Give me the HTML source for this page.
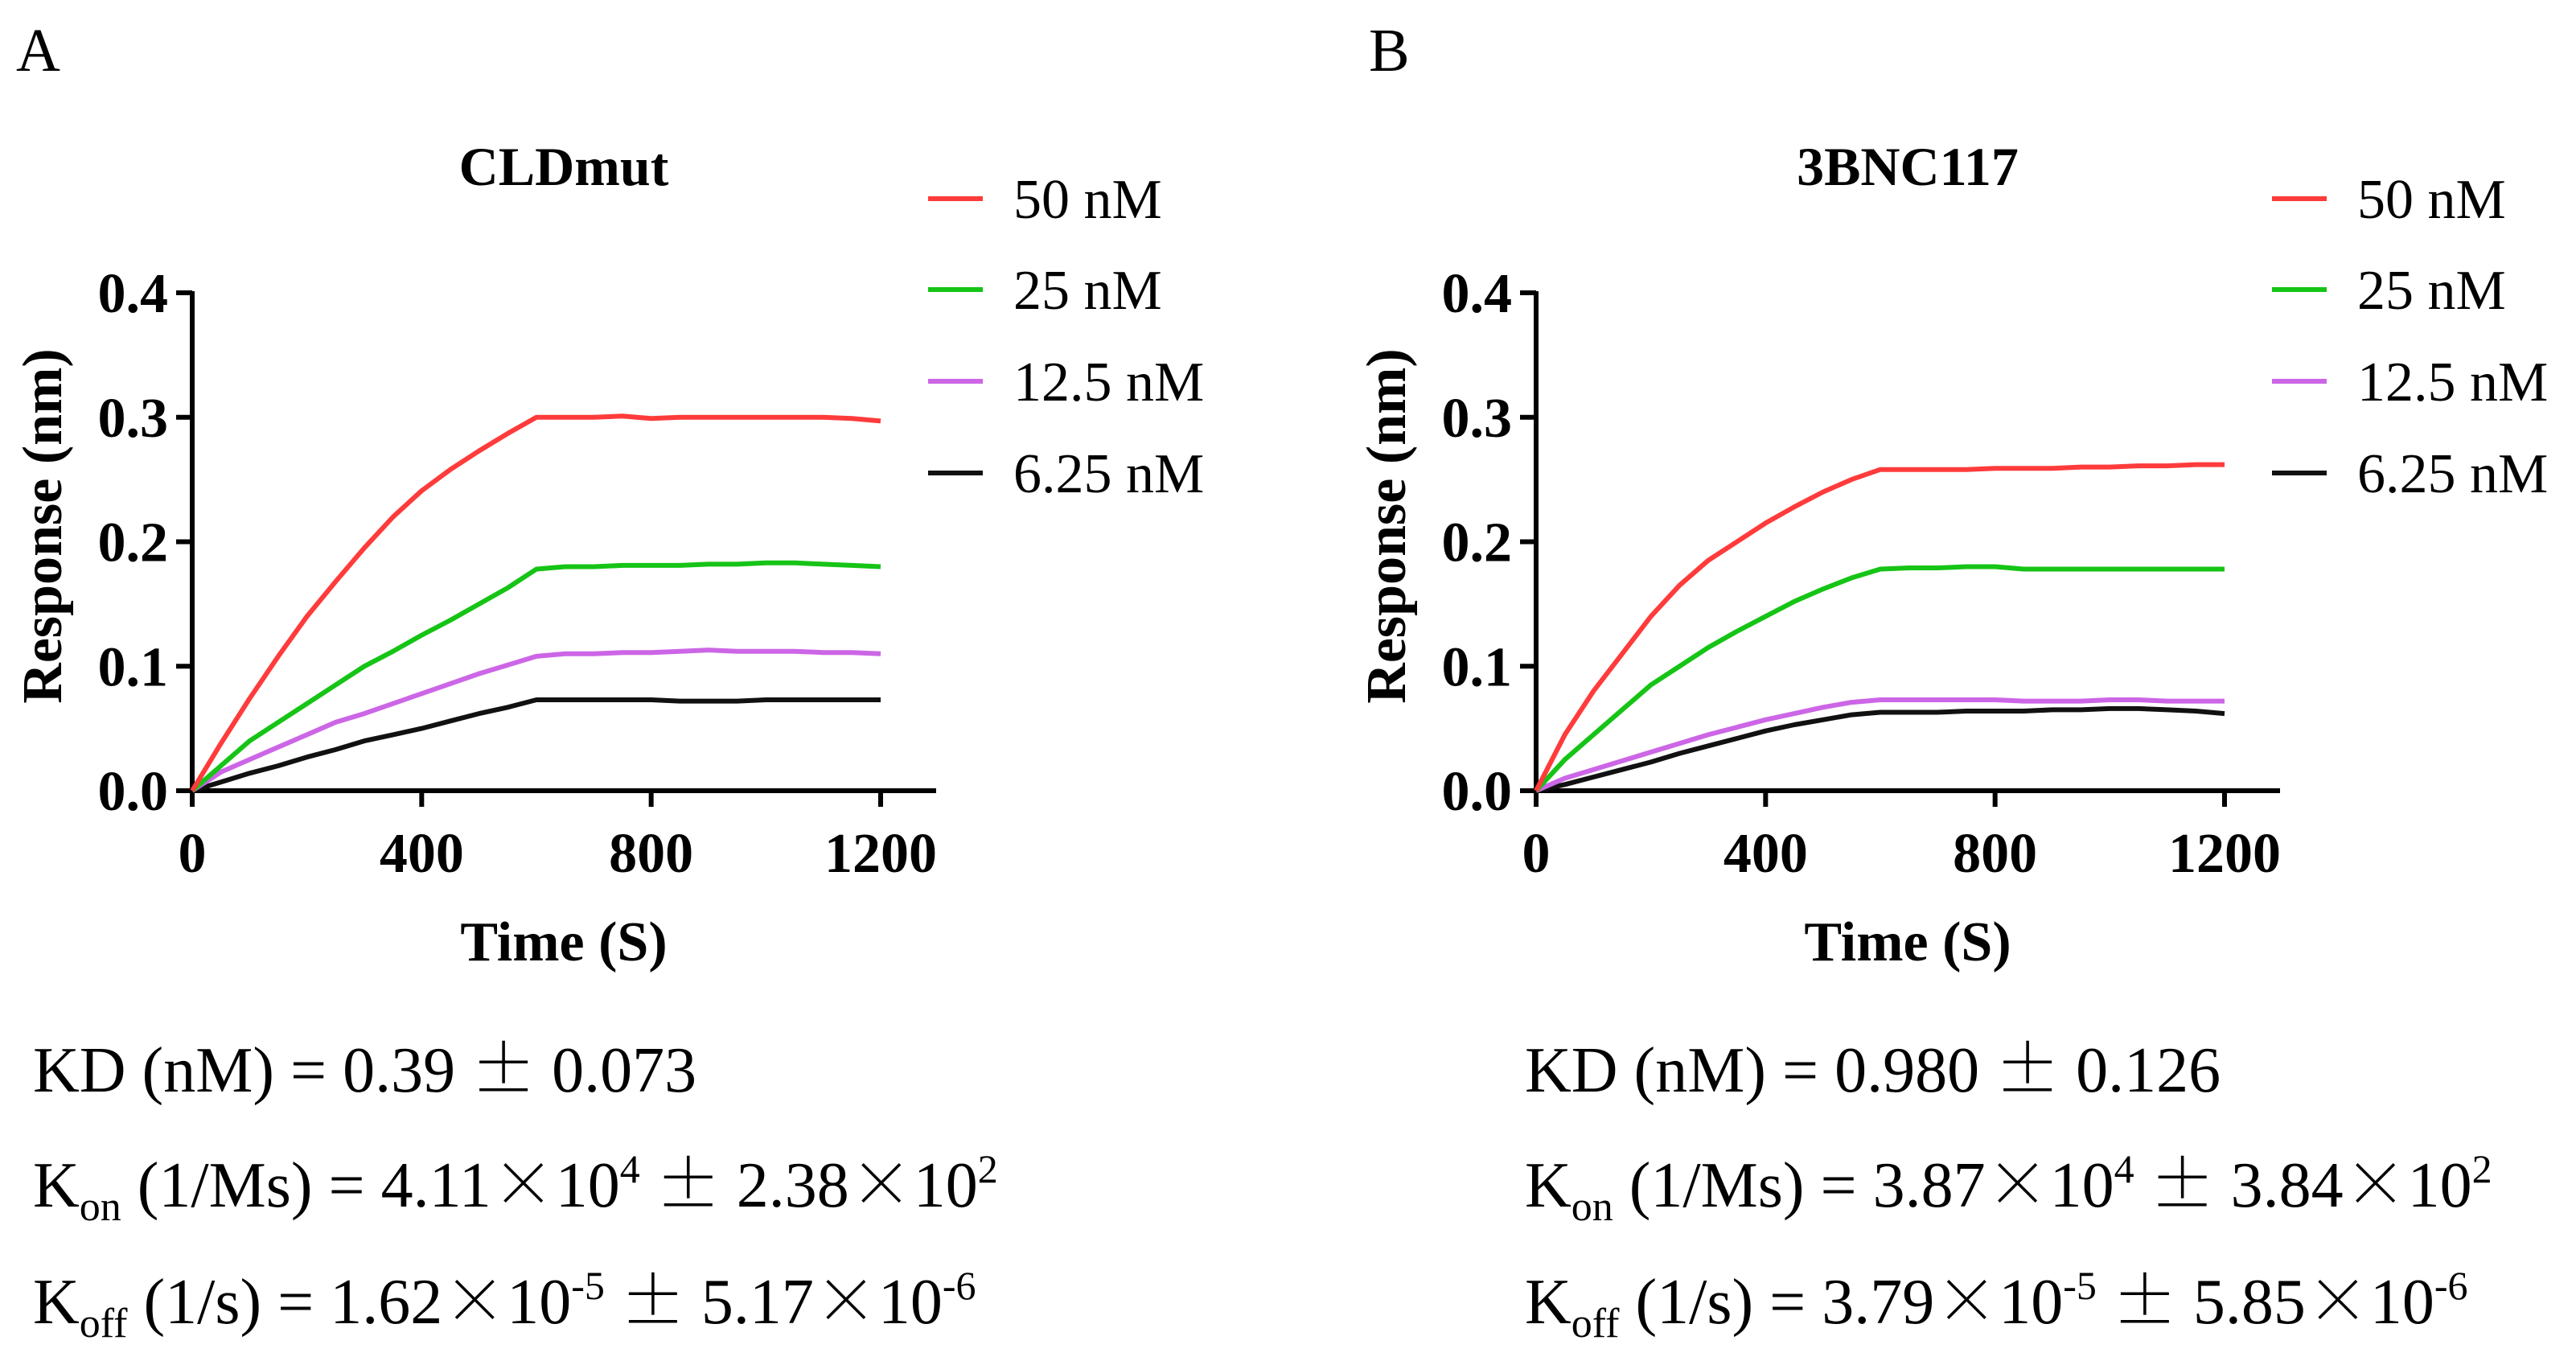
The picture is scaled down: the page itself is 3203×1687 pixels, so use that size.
<!DOCTYPE html>
<html><head><meta charset="utf-8"><style>
html,body{margin:0;padding:0;background:#fff;}
svg{display:block;font-family:"Liberation Serif",serif;}
.w{font-family:"Noto Serif CJK SC","Noto Sans CJK SC",serif;}
</style></head><body>
<svg id="fig" width="3203" height="1687" viewBox="0 0 3203 1687">
<text x="20" y="88" font-size="76">A</text>
<text x="1702" y="88" font-size="76">B</text>
<g id="panelA"></g>
<g id="panelB"></g>
<g font-size="80">
<text x="41" y="1357">KD (nM) = 0.39 <tspan class="w">±</tspan> 0.073</text>
<text x="41" y="1500">K<tspan font-size="52" dy="17">on</tspan><tspan dy="-17"> (1/Ms) = 4.11</tspan><tspan class="w">×</tspan>10<tspan font-size="50" dy="-30">4</tspan><tspan dy="30"> </tspan><tspan class="w">±</tspan> 2.38<tspan class="w">×</tspan>10<tspan font-size="50" dy="-30">2</tspan></text>
<text x="41" y="1645">K<tspan font-size="52" dy="17">off</tspan><tspan dy="-17"> (1/s) = 1.62</tspan><tspan class="w">×</tspan>10<tspan font-size="50" dy="-30">-5</tspan><tspan dy="30"> </tspan><tspan class="w">±</tspan> 5.17<tspan class="w">×</tspan>10<tspan font-size="50" dy="-30">-6</tspan></text>
</g>
<g font-size="80">
<text x="1896" y="1357">KD (nM) = 0.980 <tspan class="w">±</tspan> 0.126</text>
<text x="1896" y="1500">K<tspan font-size="52" dy="17">on</tspan><tspan dy="-17"> (1/Ms) = 3.87</tspan><tspan class="w">×</tspan>10<tspan font-size="50" dy="-30">4</tspan><tspan dy="30"> </tspan><tspan class="w">±</tspan> 3.84<tspan class="w">×</tspan>10<tspan font-size="50" dy="-30">2</tspan></text>
<text x="1896" y="1645">K<tspan font-size="52" dy="17">off</tspan><tspan dy="-17"> (1/s) = 3.79</tspan><tspan class="w">×</tspan>10<tspan font-size="50" dy="-30">-5</tspan><tspan dy="30"> </tspan><tspan class="w">±</tspan> 5.85<tspan class="w">×</tspan>10<tspan font-size="50" dy="-30">-6</tspan></text>
</g>
</svg>
<script>
const times = [0,50,100,150,200,250,300,350,400,450,500,550,600,650,700,750,800,850,900,950,1000,1050,1100,1150,1200];
const seriesLabels = ["50 nM","25 nM","12.5 nM","6.25 nM"];
const seriesColors = ["#ff3b3b","#16c416","#cc66e6","#111111"];
const xTicks = [0,400,800,1200];
const yTicks = [0.0,0.1,0.2,0.3,0.4];
const cldRed    = [0,0.038,0.074,0.108,0.14,0.168,0.195,0.22,0.241,0.258,0.273,0.287,0.30,0.30,0.30,0.301,0.299,0.30,0.30,0.30,0.30,0.30,0.30,0.299,0.297];
const cldGreen  = [0,0.02,0.04,0.055,0.07,0.085,0.10,0.112,0.125,0.137,0.15,0.163,0.178,0.18,0.18,0.181,0.181,0.181,0.182,0.182,0.183,0.183,0.182,0.181,0.18];
const cldPurple = [0,0.015,0.025,0.035,0.045,0.055,0.062,0.07,0.078,0.086,0.094,0.101,0.108,0.11,0.11,0.111,0.111,0.112,0.113,0.112,0.112,0.112,0.111,0.111,0.11];
const cldBlack  = [0,0.007,0.014,0.02,0.027,0.033,0.04,0.045,0.05,0.056,0.062,0.067,0.073,0.073,0.073,0.073,0.073,0.072,0.072,0.072,0.073,0.073,0.073,0.073,0.073];
const bncRed    = [0,0.045,0.08,0.11,0.14,0.165,0.185,0.2,0.215,0.228,0.24,0.25,0.258,0.258,0.258,0.258,0.259,0.259,0.259,0.26,0.26,0.261,0.261,0.262,0.262];
const bncGreen  = [0,0.025,0.045,0.065,0.085,0.1,0.115,0.128,0.14,0.152,0.162,0.171,0.178,0.179,0.179,0.18,0.18,0.178,0.178,0.178,0.178,0.178,0.178,0.178,0.178];
const bncPurple = [0,0.01,0.017,0.024,0.031,0.038,0.045,0.051,0.057,0.062,0.067,0.071,0.073,0.073,0.073,0.073,0.073,0.072,0.072,0.072,0.073,0.073,0.072,0.072,0.072];
const bncBlack  = [0,0.005,0.011,0.017,0.023,0.03,0.036,0.042,0.048,0.053,0.057,0.061,0.063,0.063,0.063,0.064,0.064,0.064,0.065,0.065,0.066,0.066,0.065,0.064,0.062];

const NS="http://www.w3.org/2000/svg";
function mk(parent,tag,attrs){const e=document.createElementNS(NS,tag);for(const k in attrs)e.setAttribute(k,attrs[k]);parent.appendChild(e);return e;}

function drawPanel(g,ox,title,series,prefix){
  const x0=ox+239, x1=ox+1095, axEnd=ox+1164, yZ=983, yT=364;
  const sx=v=>x0+(v-0)/(1200)*(x1-x0);
  const sy=v=>yZ-(v/0.4)*(yZ-yT);
  const t=mk(g,'text',{x:ox+701,y:230,'font-size':68,'font-weight':'bold','text-anchor':'middle'});t.textContent=title;
  
  
  const ya=mk(g,'line',{x1:x0,y1:yT-2,x2:x0,y2:yZ+3,stroke:'#000','stroke-width':6});
  
  
  const xa=mk(g,'line',{x1:x0-3,y1:yZ,x2:axEnd,y2:yZ,stroke:'#000','stroke-width':6});
  
  
  yTicks.forEach(v=>{
    const y=sy(v);
    mk(g,'line',{x1:x0-20,y1:y,x2:x0,y2:y,stroke:'#000','stroke-width':6});
    const l=mk(g,'text',{x:x0-30,y:y+24,'font-size':70,'font-weight':'bold','text-anchor':'end'});l.textContent=v.toFixed(1);
    
    
  });
  xTicks.forEach(v=>{
    const x=sx(v);
    mk(g,'line',{x1:x,y1:yZ,x2:x,y2:yZ+20,stroke:'#000','stroke-width':6});
    const l=mk(g,'text',{x:x,y:1084,'font-size':70,'font-weight':'bold','text-anchor':'middle'});l.textContent=v;
    
    
  });
  const xt=mk(g,'text',{x:ox+701,y:1194,'font-size':70,'font-weight':'bold','text-anchor':'middle'});xt.textContent='Time (S)';
  
  
  const yt=mk(g,'text',{x:0,y:0,'font-size':70,'font-weight':'bold','text-anchor':'middle',transform:`translate(${ox+76},654) rotate(-90)`});yt.textContent='Response (nm)';
  
  
  for(let i=series.length-1;i>=0;i--){
    const d=series[i].map((v,j)=>(j?'L':'M')+sx(times[j]).toFixed(1)+','+sy(v).toFixed(1)).join('');
    const p=mk(g,'path',{d:d,fill:'none',stroke:seriesColors[i],'stroke-width':6,'stroke-linejoin':'round'});
    
    
  }
  const ly=[247,360,474,588];
  seriesLabels.forEach((s,i)=>{
    const le=mk(g,'g',{});
    
    
    mk(le,'line',{x1:ox+1154,y1:ly[i],x2:ox+1222,y2:ly[i],stroke:seriesColors[i],'stroke-width':6});
    const tx=mk(le,'text',{x:ox+1260,y:ly[i]+24,'font-size':70});tx.textContent=s;
  });
}
drawPanel(document.getElementById('panelA'),0,'CLDmut',[cldRed,cldGreen,cldPurple,cldBlack],'a');
drawPanel(document.getElementById('panelB'),1671,'3BNC117',[bncRed,bncGreen,bncPurple,bncBlack],'b');
</script>
</body></html>
